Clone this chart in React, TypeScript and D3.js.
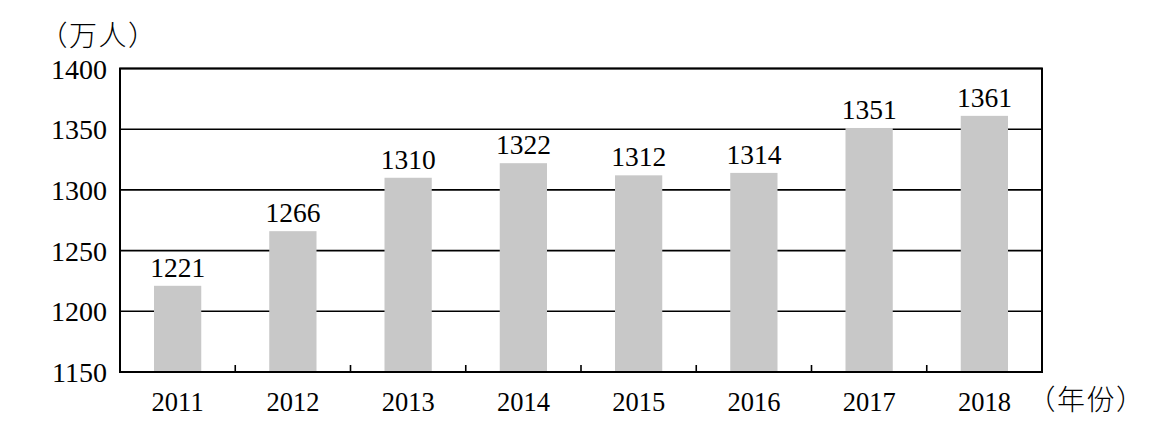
import React from "react";
import * as d3 from "d3";

const years = ["2011", "2012", "2013", "2014", "2015", "2016", "2017", "2018"];
const values = [1221, 1266, 1310, 1322, 1312, 1314, 1351, 1361];
const yTicks = [1150, 1200, 1250, 1300, 1350, 1400];
const yUnit = "（万人）";
const xUnit = "（年份）";

const W = 1166, H = 443;
const M = { left: 120, right: 1042, top: 68.5, bottom: 372 };
const serif = "Liberation Serif";
const cjk = "Noto Sans CJK SC";

export default function App() {
  const x = d3.scaleBand<string>().domain(years).range([M.left, M.right]).paddingInner(0.59).paddingOuter(0.295);
  const y = d3.scaleLinear().domain([1150, 1400]).range([M.bottom, M.top]);
  const step = x.step();
  return (
    <svg width={W} height={H} style={{ position: "absolute", left: 0, top: 0, background: "#fff" }}>
      <rect x={0} y={0} width={W} height={H} fill="#fff" />
      {yTicks.map((t) => (
        <g key={t}>
          <line x1={M.left} x2={M.right} y1={y(t)} y2={y(t)} stroke="#000" strokeWidth={1.6} />
          <text x={M.left - 13} y={y(t) + 10} textAnchor="end" fontFamily={serif} fontSize={28} fill="#000">{t}</text>
        </g>
      ))}
      {years.map((yr, i) => (
        <g key={yr}>
          <rect x={x(yr)} y={y(values[i])} width={x.bandwidth()} height={M.bottom - y(values[i])} fill="#c8c8c8" />
          <text x={(x(yr) as number) + x.bandwidth() / 2} y={y(values[i]) - 9} textAnchor="middle" fontFamily={serif} fontSize={27.5} fill="#000">{values[i]}</text>
          <text x={(x(yr) as number) + x.bandwidth() / 2} y={411} textAnchor="middle" fontFamily={serif} fontSize={26.5} fill="#000">{yr}</text>
        </g>
      ))}
      {years.slice(1).map((yr, i) => (
        <line key={"tk" + yr} x1={M.left + step * (i + 1)} x2={M.left + step * (i + 1)} y1={M.bottom} y2={M.bottom - 7} stroke="#000" strokeWidth={1.6} />
      ))}
      <rect x={M.left} y={M.top} width={M.right - M.left} height={M.bottom - M.top} fill="none" stroke="#000" strokeWidth={2} />
      <text x={39.5} y={46} fontFamily={cjk} fontWeight={300} fontSize={28} letterSpacing={1.5} fill="#000">{yUnit}</text>
      <text x={1027.5} y={410} fontFamily={cjk} fontWeight={300} fontSize={28} letterSpacing={1.5} fill="#000">{xUnit}</text>
    </svg>
  );
}
